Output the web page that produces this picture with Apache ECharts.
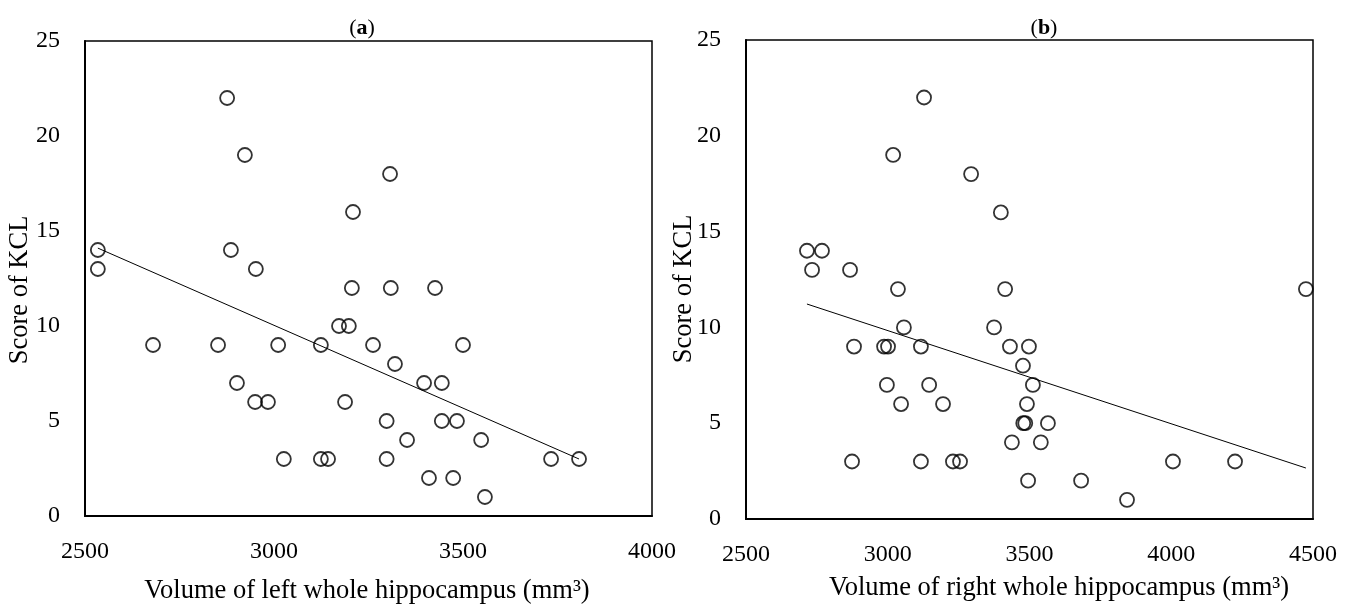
<!DOCTYPE html>
<html>
<head>
<meta charset="utf-8">
<script src="https://cdn.jsdelivr.net/npm/echarts@6/dist/echarts.min.js"></script>
<style>html,body{margin:0;padding:0;background:#fff}#c{width:1352px;height:608px}</style>
</head>
<body>
<div id="c"></div>
<script>
// Panel (a): left whole hippocampus volume vs KCL score
const leftVolume = [2876,2923,3307,3209,2534,2534,2886,2952,3206,3309,3426,
  2680,2852,3011,3124,3262,3500,3172,3198,3320,2902,3397,3444,2950,2984,3188,
  3298,3444,3484,3352,3548,3026,3124,3143,3298,3733,3807,3410,3474,3558];
const leftScore = [22,19,18,16,14,13,14,13,12,12,12,
  9,9,9,9,9,9,10,10,8,7,7,7,6,6,6,
  5,5,5,4,4,3,3,3,3,3,3,2,2,1];
const leftTrendX = [2534, 3807];
const leftTrendY = [14.1, 3.0];

// Panel (b): right whole hippocampus volume vs KCL score
const rightVolume = [3128,3019,3294,3399,2715,2768,2733,2867,3036,3414,4475,
  3057,3375,2881,2987,3001,3117,3431,3498,3477,2997,3146,3512,3047,3195,3491,
  3478,3485,3565,3438,3540,2874,3117,3230,3255,4006,4225,3495,3682,3844];
const rightScore = [22,19,18,16,14,14,13,13,12,12,12,
  10,10,9,9,9,9,9,9,8,7,7,7,6,6,6,
  5,5,5,4,4,3,3,3,3,3,3,2,2,1];
const rightTrendX = [2715, 4475];
const rightTrendY = [11.22, 2.66];

const xTicksA = {min:2500, max:4000, interval:500};
const xTicksB = {min:2500, max:4500, interval:500};
const yTicks = {min:0, max:25, interval:5};
const titleA = 'a', titleB = 'b';
const xNameA = 'Volume of left whole hippocampus (mm³)';
const xNameB = 'Volume of right whole hippocampus (mm³)';
const yName = 'Score of KCL';

const FONT = 'Liberation Serif';
const pts = (xs, ys) => xs.map((x, i) => [x, ys[i]]);

function xAxis(idx, t) {
  return {
    type:'value', gridIndex:idx, min:t.min, max:t.max, interval:t.interval,
    axisLine:{show:true, onZero:false, lineStyle:{color:'#000', width:2}},
    axisTick:{show:false}, splitLine:{show:false},
    axisLabel:{color:'#000', fontFamily:FONT, fontSize:24, margin:24, formatter:v => String(v)}
  };
}
function yAxis(idx) {
  return {
    type:'value', gridIndex:idx, min:yTicks.min, max:yTicks.max, interval:yTicks.interval,
    axisLine:{show:true, onZero:false, lineStyle:{color:'#000', width:2}},
    axisTick:{show:false}, splitLine:{show:false},
    axisLabel:{color:'#000', fontFamily:FONT, fontSize:24, margin:25, formatter:v => String(v)}
  };
}
const scatterStyle = {color:'rgba(0,0,0,0)', borderColor:'#000', borderWidth:1.8};
function label(text, x, y, rot) {
  return {type:'text', x:x, y:y, rotation:rot || 0,
    style:{text:text, fill:'#000', font:'26.5px "' + FONT + '"', textAlign:'center', textVerticalAlign:'middle'}};
}

const chart = echarts.init(document.getElementById('c'), null, {renderer:'canvas'});
chart.setOption({
  backgroundColor:'#fff',
  animation:false,
  title:[
    {text:'({b|' + titleA + '})', left:357, top:12, textAlign:'center',
     textStyle:{fontFamily:FONT, fontSize:22, fontWeight:'normal', color:'#000',
       rich:{b:{fontFamily:FONT, fontSize:22, fontWeight:'bold', color:'#000'}}}},
    {text:'({b|' + titleB + '})', left:1039, top:12, textAlign:'center',
     textStyle:{fontFamily:FONT, fontSize:22, fontWeight:'normal', color:'#000',
       rich:{b:{fontFamily:FONT, fontSize:22, fontWeight:'bold', color:'#000'}}}}
  ],
  graphic:[
    label(xNameA, 367, 591),
    label(xNameB, 1059, 588),
    label(yName, 20, 290, Math.PI / 2),
    label(yName, 684, 289, Math.PI / 2)
  ],
  grid:[
    {left:85, top:41, width:567, height:475, show:true, borderColor:'#000', borderWidth:1.5, backgroundColor:'transparent', containLabel:false},
    {left:746, top:40, width:567, height:479, show:true, borderColor:'#000', borderWidth:1.5, backgroundColor:'transparent', containLabel:false}
  ],
  xAxis:[xAxis(0, xTicksA), xAxis(1, xTicksB)],
  yAxis:[yAxis(0), yAxis(1)],
  series:[
    {type:'scatter', xAxisIndex:0, yAxisIndex:0, data:pts(leftVolume, leftScore),
     symbol:'circle', symbolSize:14, itemStyle:scatterStyle},
    {type:'line', xAxisIndex:0, yAxisIndex:0, data:pts(leftTrendX, leftTrendY),
     symbol:'none', lineStyle:{color:'#000', width:1}},
    {type:'scatter', xAxisIndex:1, yAxisIndex:1, data:pts(rightVolume, rightScore),
     symbol:'circle', symbolSize:14, itemStyle:scatterStyle},
    {type:'line', xAxisIndex:1, yAxisIndex:1, data:pts(rightTrendX, rightTrendY),
     symbol:'none', lineStyle:{color:'#000', width:1}}
  ]
});
</script>
</body>
</html>
